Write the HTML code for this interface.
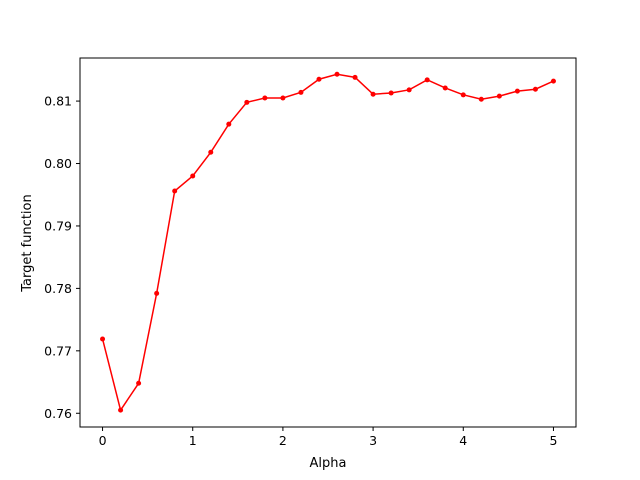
<!DOCTYPE html>
<html><head><meta charset="utf-8"><style>body{margin:0;background:#fff}svg{display:block;font-family:"DejaVu Sans","Liberation Sans",sans-serif}</style></head>
<body>
<svg id="chart" width="640" height="480">
<rect width="640" height="480" fill="#fff"/>
<g id="plot"></g>
<rect x="80" y="58" width="496" height="369" fill="none" stroke="#000" stroke-width="1"/>
<text x="328" y="467" font-size="13" text-anchor="middle">Alpha</text>
<text x="31" y="243" font-size="13" text-anchor="middle" transform="rotate(-90 31 243)">Target function</text>
</svg>
<script>
const alphas=[0,0.2,0.4,0.6,0.8,1.0,1.2,1.4,1.6,1.8,2.0,2.2,2.4,2.6,2.8,3.0,3.2,3.4,3.6,3.8,4.0,4.2,4.4,4.6,4.8,5.0];
const values=[0.7719,0.7605,0.7648,0.7792,0.7956,0.7980,0.8018,0.8063,0.8098,0.8105,0.8105,0.8114,0.8135,0.8143,0.8138,0.8111,0.8113,0.8118,0.8134,0.8121,0.8110,0.8103,0.8108,0.8116,0.8119,0.8132];
const xTicks=[0,1,2,3,4,5];
const yTicks=[0.76,0.77,0.78,0.79,0.80,0.81];
const xMin=-0.25,xMax=5.25,yMin=0.7578,yMax=0.8169;
const L=80,R=576,T=58,B=427;
const sx=v=>L+(v-xMin)/(xMax-xMin)*(R-L);
const sy=v=>B-(v-yMin)/(yMax-yMin)*(B-T);
const NS="http://www.w3.org/2000/svg";
const g=document.getElementById('plot');
function mk(t,a){const e=document.createElementNS(NS,t);for(const k in a)e.setAttribute(k,a[k]);g.appendChild(e);return e;}
xTicks.forEach(v=>{
  const t=mk('line',{x1:sx(v),x2:sx(v),y1:B,y2:B+4,stroke:'#000'});
  
  
  const l=mk('text',{x:sx(v),y:B+18,'font-size':12.5,'text-anchor':'middle'});
  l.textContent=String(v);
  
  
});
yTicks.forEach(v=>{
  const t=mk('line',{x1:L-4,x2:L,y1:sy(v),y2:sy(v),stroke:'#000'});
  
  
  const l=mk('text',{x:L-8,y:sy(v)+4.5,'font-size':12.5,'text-anchor':'end'});
  l.textContent=v.toFixed(2);
  
  
});
const pl=mk('polyline',{points:alphas.map((a,i)=>sx(a)+','+sy(values[i])).join(' '),fill:'none',stroke:'#f00','stroke-width':1.5});


alphas.forEach((a,i)=>{
  const c=mk('circle',{cx:sx(a),cy:sy(values[i]),r:2.5,fill:'#f00'});
  
  
});
</script>
</body></html>
